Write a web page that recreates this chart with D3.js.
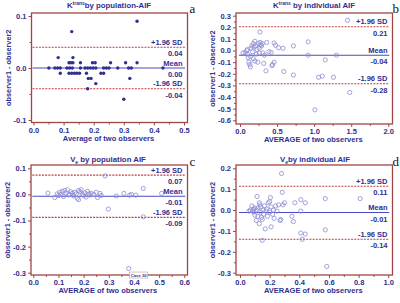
<!DOCTYPE html>
<html><head><meta charset="utf-8">
<script src="https://cdn.jsdelivr.net/npm/d3@7"></script>
<style>body{margin:0;background:#fff}svg{display:block}</style></head>
<body><svg id="chart" width="400" height="303"></svg>
<script>
// ---------- DATA ----------
// Panel a: Ktrans by population-AIF
const aAvg  = [0.344,0.127,0.082,0.131,0.118,0.124,0.131,0.156,0.196,0.205,0.256,0.306,0.344,
  0.051,0.071,0.080,0.089,0.111,0.120,0.129,0.156,0.171,0.180,0.189,0.198,0.207,0.233,0.242,0.251,0.280,0.316,0.325,0.430,
  0.089,0.118,0.127,0.136,0.144,0.153,0.176,0.224,0.233,0.182,0.191,0.320,0.207,0.180,0.300];
const aDiff = [0.09,0.07,0.02,0.02,0.01,0.01,0.01,0.01,0.01,0.01,0.01,0.01,0.01,
  0,0,0,0,0,0,0,0,0,0,0,0,0,0,0,0,0,0,0,0,
  -0.01,-0.01,-0.01,-0.01,-0.01,-0.01,-0.01,-0.01,-0.01,-0.02,-0.02,-0.02,-0.03,-0.04,-0.06];
// Panel b: Ktrans by individual AIF
const bAvg  = [0.04,0.07,0.09,0.10,0.10,0.11,0.12,0.13,0.14,0.14,0.15,0.16,0.17,0.18,0.18,0.19,0.20,0.20,0.21,0.22,0.23,0.24,0.25,0.26,0.26,0.27,0.27,0.28,0.29,0.30,0.31,0.32,0.33,0.35,0.36,0.39,0.42,0.43,0.44,0.46,0.46,0.48,0.52,0.58,0.59,0.72,0.72,0.92,0.92,1.06,1.11,1.15,1.26,1.30,1.45,1.48,1.01];
const bDiff = [-0.02,-0.02,0.00,0.01,-0.03,-0.06,-0.10,-0.12,-0.14,-0.05,0.02,0.04,-0.01,-0.07,0.06,0.03,-0.09,0.08,0.04,-0.03,0.01,-0.10,0.06,0.02,-0.02,0.16,0.07,0.05,0.04,0.06,-0.02,-0.11,-0.04,-0.175,0.07,-0.01,-0.015,-0.13,-0.12,-0.10,0.065,0.045,0.025,0.02,-0.18,0.04,-0.21,0.075,-0.04,-0.23,-0.22,-0.08,-0.23,-0.04,0.26,-0.36,-0.51];
// Panel c: Ve by population AIF
const cAvg  = [0.058,0.085,0.095,0.100,0.105,0.110,0.115,0.120,0.125,0.130,0.135,0.140,0.145,0.150,0.155,0.160,0.165,0.170,0.175,0.180,0.180,0.185,0.190,0.195,0.200,0.205,0.210,0.215,0.220,0.225,0.230,0.240,0.250,0.255,0.265,0.270,0.285,0.298,0.330,0.360,0.383,0.390,0.407,0.437,0.437,0.510,0.379];
const cDiff = [0.005,-0.012,0.002,-0.005,0.008,0.000,0.012,-0.008,0.015,0.005,0.018,-0.002,0.000,0.010,0.004,-0.006,0.008,0.002,-0.015,0.015,-0.020,0.010,0.018,0.000,-0.004,0.006,-0.010,0.012,0.002,-0.002,0.004,0.000,0.008,-0.012,0.004,-0.004,0.071,-0.056,-0.006,0.004,-0.003,0.000,-0.003,0.023,-0.086,0.004,-0.284];
// Panel d: Ve by individual AIF
const dAvg  = [0.06,0.07,0.08,0.085,0.09,0.095,0.10,0.10,0.11,0.11,0.115,0.12,0.12,0.13,0.13,0.135,0.14,0.14,0.145,0.15,0.15,0.155,0.16,0.165,0.17,0.175,0.18,0.185,0.19,0.20,0.20,0.205,0.21,0.21,0.22,0.225,0.23,0.24,0.25,0.26,0.27,0.275,0.28,0.285,0.29,0.30,0.35,0.36,0.37,0.41,0.41,0.41,0.42,0.44,0.44,0.575,0.575,0.585,0.81];
const dDiff = [-0.005,0.0,0.02,-0.005,0.005,-0.01,0.01,-0.025,0.0,-0.05,0.065,0.01,-0.03,-0.065,0.035,0.025,-0.01,0.015,-0.035,-0.045,-0.145,0.0,-0.02,0.02,-0.09,-0.005,0.005,-0.03,0.035,0.04,-0.01,0.06,-0.08,0.015,-0.02,0.0,-0.04,0.02,-0.005,0.025,-0.05,-0.045,0.175,0.085,0.025,0.035,-0.03,-0.055,0.035,0.05,-0.005,-0.11,-0.14,0.035,-0.115,0.055,-0.095,-0.27,0.055];

// limits of agreement: [upper, mean, lower] and their printed labels
const aLimits = [0.04, 0.00, -0.04],   aLimitLabels = ["0.04", "0.00", "-0.04"];
const bLimits = [0.205, -0.04, -0.285], bLimitLabels = ["0.21", "-0.04", "-0.28"];
const cLimits = [0.074, -0.007, -0.088], cLimitLabels = ["0.07", "-0.01", "-0.09"];
const dLimits = [0.114, -0.012, -0.14], dLimitLabels = ["0.11", "-0.01", "-0.14"];

// ticks
const aXTicks = [0,0.1,0.2,0.3,0.4,0.5], aYTicks = [0.1,0,-0.1];
const bXTicks = [0,0.5,1.0,1.5,2.0],    bYTicks = [0.3,0.2,0.1,0,-0.1,-0.2,-0.3,-0.4,-0.5,-0.6];
const cXTicks = [0,0.1,0.2,0.3,0.4,0.5,0.6], cYTicks = [0.1,0,-0.1,-0.2,-0.3];
const dXTicks = [0,0.2,0.4,0.6,0.8,1.0], dYTicks = [0.2,0.1,0,-0.1,-0.2,-0.3];

// ---------- STYLE ----------
const NAVY = "#2f2f8f", FRAME = "#a04646", MEANC = "#4a4ac4", SDC = "#c03c3c", PT = "#8c8cd4";
const FONT = "'Liberation Sans', Arial, sans-serif";
const svg = d3.select("#chart");

function range(a, b, s){ const r=[]; for(let v=a; v<=b+1e-9; v+=s) r.push(+v.toFixed(4)); return r; }

function panel(o){
  const g = svg.append("g");
  const [fl, ft, fr, fb] = o.frame;
  const x = d3.scaleLinear().domain(o.xDom).range(o.xRange);
  const y = d3.scaleLinear().domain(o.yDom).range(o.yRange);

  g.append("g").attr("transform", `translate(${fl},0)`)
    .call(d3.axisLeft(y).tickValues(o.yTicks).tickFormat(d => d.toFixed(1)).tickSize(3).tickPadding(2).tickSizeOuter(0));
  g.append("g").attr("transform", `translate(${fl},0)`)
    .call(d3.axisLeft(y).tickValues(o.yMinor).tickFormat("").tickSize(2).tickSizeOuter(0));
  g.append("g").attr("transform", `translate(0,${fb})`)
    .call(d3.axisBottom(x).tickValues(o.xTicks).tickFormat(d => d.toFixed(1)).tickSize(3).tickPadding(2).tickSizeOuter(0));
  g.append("g").attr("transform", `translate(0,${fb})`)
    .call(d3.axisBottom(x).tickValues(o.xMinor).tickFormat("").tickSize(2).tickSizeOuter(0));
  g.selectAll(".domain").remove();
  g.selectAll(".tick line").attr("stroke", FRAME).attr("stroke-width", 1);
  g.selectAll(".tick text").attr("fill", NAVY).attr("font-family", FONT)
    .attr("font-weight", "bold").attr("font-size", 7.5);

  g.append("rect").attr("x", fl).attr("y", ft).attr("width", fr - fl).attr("height", fb - ft)
    .attr("fill", "none").attr("stroke", FRAME).attr("stroke-width", 1.3);

  const [up, mean, lo] = o.limits;
  const x0 = o.xRange[0] - 1, x1 = o.xRange[1] + 1;
  [up, lo].forEach(v => g.append("line").attr("x1", x0).attr("x2", x1)
    .attr("y1", y(v)).attr("y2", y(v)).attr("stroke", SDC).attr("stroke-width", 1.1)
    .attr("stroke-dasharray", "2,1.2"));
  g.append("line").attr("x1", x0).attr("x2", x1).attr("y1", y(mean)).attr("y2", y(mean))
    .attr("stroke", MEANC).attr("stroke-width", 1.1);

  const pts = o.avg.map((v, i) => [v, o.diff[i]]);
  g.selectAll("circle.p").data(pts).join("circle").attr("class", "p")
    .attr("cx", d => x(d[0])).attr("cy", d => y(d[1]))
    .attr("r", o.filled ? 1.7 : 2.1)
    .attr("fill", o.filled ? NAVY : "none")
    .attr("stroke", o.filled ? "none" : PT).attr("stroke-width", 0.8);

  const tx = fr - 5;
  const lab = (txt, yy) => g.append("text").attr("x", tx).attr("y", yy).attr("text-anchor", "end")
    .attr("fill", NAVY).attr("font-family", FONT).attr("font-weight", "bold").attr("font-size", 7.5).text(txt);
  lab("+1.96 SD", y(up) - 2.5); lab(o.limitLabels[0], y(up) + 9);
  lab("Mean", y(mean) - 2.5);  lab(o.limitLabels[1], y(mean) + 9);
  lab("-1.96 SD", y(lo) - 2.5); lab(o.limitLabels[2], y(lo) + 9);

  const t = g.append("text").attr("x", o.titlePos[0]).attr("y", o.titlePos[1]).attr("text-anchor", "middle")
    .attr("fill", NAVY).attr("font-family", FONT).attr("font-weight", "bold").attr("font-size", 7.8);
  t.append("tspan").text(o.title[0]);
  t.append("tspan").attr("font-size", 5).attr("dy", o.title[3] === "sub" ? 2 : -3).text(o.title[1]);
  t.append("tspan").attr("dy", o.title[3] === "sub" ? -2 : 3).text(o.title[2]);

  g.append("text").attr("x", o.letterPos[0]).attr("y", o.letterPos[1])
    .attr("font-family", "'Liberation Serif', 'DejaVu Serif', serif")
    .attr("font-size", 13).attr("fill", "#111").text(o.letter);

  g.append("text").attr("transform", `translate(${fl - 21},${(ft + fb) / 2}) rotate(-90)`)
    .attr("text-anchor", "middle").attr("fill", NAVY).attr("font-family", FONT)
    .attr("font-weight", "bold").attr("font-size", 7.3).text("observer1 - observer2");
  g.append("text").attr("x", (fl + fr) / 2 + o.xlabDx).attr("y", fb + 18).attr("text-anchor", "middle")
    .attr("fill", NAVY).attr("font-family", FONT).attr("font-weight", "bold").attr("font-size", 7.5).text(o.xlab);
  return {g, x, y};
}

panel({frame:[31.5,13,187.5,122.5], xDom:[0,0.5], xRange:[33.5,184], yDom:[-0.1,0.1], yRange:[120,16],
  xTicks:aXTicks, xMinor:range(0.05,0.45,0.1), yTicks:aYTicks, yMinor:[0.05,-0.05],
  avg:aAvg, diff:aDiff, filled:true, limits:aLimits, limitLabels:aLimitLabels,
  title:["K","trans","by population-AIF","sup"], titlePos:[109,8], letter:"a", letterPos:[189.5,13],
  xlab:"Average of two observers", xlabDx:-1});

panel({frame:[236,13,392.5,124], xDom:[0,2], xRange:[240,388.3], yDom:[-0.6,0.3], yRange:[120.3,15.7],
  xTicks:bXTicks, xMinor:[0.25,0.75,1.25,1.75], yTicks:bYTicks, yMinor:range(-0.55,0.25,0.1),
  avg:bAvg, diff:bDiff, filled:false, limits:bLimits, limitLabels:bLimitLabels,
  title:["K","trans"," by individual AIF","sup"], titlePos:[314,8], letter:"b", letterPos:[392.5,13],
  xlab:"AVERAGE of two observers", xlabDx:-1});

const pc = panel({frame:[31,165,187.5,275], xDom:[0,0.6], xRange:[33.3,184.3], yDom:[-0.3,0.1], yRange:[272.7,168.3],
  xTicks:cXTicks, xMinor:range(0.05,0.55,0.1), yTicks:cYTicks, yMinor:range(-0.25,0.05,0.1),
  avg:cAvg, diff:cDiff, filled:false, limits:cLimits, limitLabels:cLimitLabels,
  title:["V","e"," by population AIF","sub"], titlePos:[108,162], letter:"c", letterPos:[189.5,166],
  xlab:"AVERAGE of two observers", xlabDx:-1.5});

// "Case 30" annotation next to the outlier
const cx30 = pc.x(cAvg[cAvg.length-1]), cy30 = pc.y(cDiff[cDiff.length-1]);
pc.g.append("rect").attr("x", cx30 + 1).attr("y", cy30 + 3.5).attr("width", 18).attr("height", 6)
  .attr("fill", "#fff").attr("stroke", "#b8a0a0").attr("stroke-width", 0.6);
pc.g.append("text").attr("x", cx30 + 10).attr("y", cy30 + 8.3).attr("text-anchor", "middle")
  .attr("font-family", FONT).attr("font-size", 4.2).attr("font-weight", "bold").attr("fill", NAVY).text("Case 30");

panel({frame:[236,165,392.5,275], xDom:[0,1], xRange:[240,388.3], yDom:[-0.3,0.2], yRange:[272.7,168.3],
  xTicks:dXTicks, xMinor:range(0.1,0.9,0.2), yTicks:dYTicks, yMinor:range(-0.25,0.15,0.1),
  avg:dAvg, diff:dDiff, filled:false, limits:dLimits, limitLabels:dLimitLabels,
  title:["V","e","by individual AIF","sub"], titlePos:[315,162], letter:"d", letterPos:[392.5,166],
  xlab:"AVERAGE of two observers", xlabDx:-1});
</script></body></html>
